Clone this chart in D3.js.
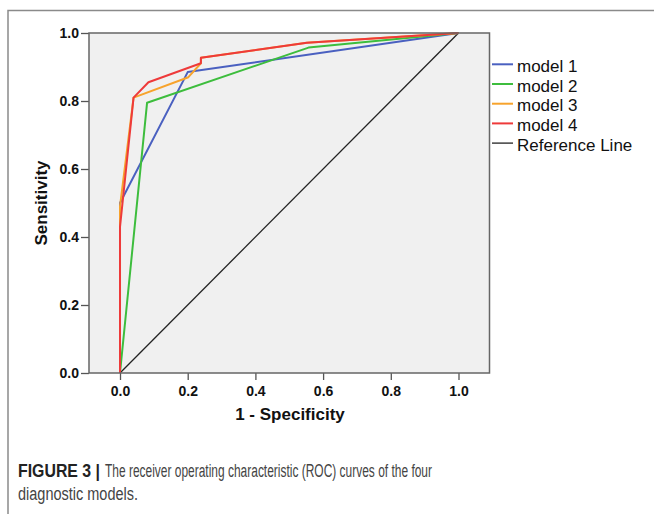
<!DOCTYPE html>
<html>
<head>
<meta charset="utf-8">
<script src="https://cdn.jsdelivr.net/npm/d3@7"></script>
<style>
  body { margin: 0; background: #fff; }
  svg { display: block; }
</style>
</head>
<body>
<div id="chart"></div>
<script>
// ROC curve points (x = 1 - specificity, y = sensitivity)
var model1X = [0, 0, 0.2, 1];
var model1Y = [0, 0.5, 0.885, 1];
var model2X = [0, 0.08, 0.557, 1];
var model2Y = [0, 0.795, 0.957, 1];
var model3X = [0, 0, 0.04, 0.202, 0.239, 0.239, 0.552, 1];
var model3Y = [0, 0.49, 0.81, 0.87, 0.911, 0.927, 0.971, 1];
var model4X = [0, 0, 0.04, 0.084, 0.239, 0.239, 0.552, 1];
var model4Y = [0, 0.43, 0.81, 0.855, 0.911, 0.927, 0.971, 1];
var refX = [0, 1];
var refY = [0, 1];

var seriesNames = ["model 1", "model 2", "model 3", "model 4", "Reference Line"];
var tickValues = [0, 0.2, 0.4, 0.6, 0.8, 1.0];

var colors = ["#4a60c0", "#3dbd3d", "#f7a32c", "#ee3a3a", "#222222"];

var svgWidth = 654;
var svgHeight = 514;

var svg = d3.select("#chart")
    .append("svg")
    .attr("width", svgWidth)
    .attr("height", svgHeight);

// figure border (top + left)
svg.append("path")
    .attr("d", "M8,514 L8,10.5 L654,10.5")
    .attr("fill", "none")
    .attr("stroke", "#8a8a8a")
    .attr("stroke-width", 1.5);

var xScale = d3.scaleLinear()
    .domain([-0.0916, 1.0916])
    .range([89, 489.5]);

var yScale = d3.scaleLinear()
    .domain([0, 1])
    .range([373, 33]);

// plot background
svg.append("rect")
    .attr("x", xScale.range()[0])
    .attr("y", yScale.range()[1])
    .attr("width", xScale.range()[1] - xScale.range()[0])
    .attr("height", yScale.range()[0] - yScale.range()[1])
    .attr("fill", "#f0f0f0");

// axes
var bottomAxis = d3.axisBottom(xScale)
    .tickValues(tickValues)
    .tickSize(7)
    .tickPadding(6)
    .tickFormat(d3.format(".1f"));

var leftAxis = d3.axisLeft(yScale)
    .tickValues(tickValues)
    .tickSize(8)
    .tickPadding(2)
    .tickFormat(d3.format(".1f"));

var xAxis = svg.append("g")
    .attr("transform", "translate(0," + yScale(0) + ")")
    .call(bottomAxis);

var yAxis = svg.append("g")
    .attr("transform", "translate(" + xScale.range()[0] + ",0)")
    .call(leftAxis);

[xAxis, yAxis].forEach(function (ax) {
    ax.select(".domain").remove();
    ax.selectAll("line").attr("stroke", "#555").attr("stroke-width", 1.3);
    ax.selectAll("text")
        .attr("fill", "#111")
        .style("font-family", "'Liberation Sans', Arial, sans-serif")
        .style("font-size", "14px")
        .style("font-weight", "bold");
});

// lines
var line = d3.line()
    .x(d => xScale(d[0]))
    .y(d => yScale(d[1]));

function pts(xs, ys) {
    return xs.map((x, i) => [x, ys[i]]);
}

svg.append("path")
    .datum(pts(refX, refY))
    .attr("d", line)
    .attr("fill", "none")
    .attr("stroke", colors[4])
    .attr("stroke-width", 1.3);

var curves = [
    pts(model1X, model1Y),
    pts(model2X, model2Y),
    pts(model3X, model3Y),
    pts(model4X, model4Y)
];

svg.selectAll(".roc")
    .data(curves)
    .enter()
    .append("path")
    .attr("class", "roc")
    .attr("d", line)
    .attr("fill", "none")
    .attr("stroke", (d, i) => colors[i])
    .attr("stroke-width", 2)
    .attr("stroke-linejoin", "round");

// plot frame
svg.append("rect")
    .attr("x", xScale.range()[0])
    .attr("y", yScale.range()[1])
    .attr("width", xScale.range()[1] - xScale.range()[0])
    .attr("height", yScale.range()[0] - yScale.range()[1])
    .attr("fill", "none")
    .attr("stroke", "#666")
    .attr("stroke-width", 1.5);

// axis titles
svg.append("text")
    .attr("x", 290)
    .attr("y", 420)
    .attr("text-anchor", "middle")
    .style("font-family", "'Liberation Sans', Arial, sans-serif")
    .style("font-size", "17px")
    .style("font-weight", "bold")
    .attr("fill", "#111")
    .text("1 - Specificity");

svg.append("text")
    .attr("transform", "translate(47,203) rotate(-90)")
    .attr("text-anchor", "middle")
    .style("font-family", "'Liberation Sans', Arial, sans-serif")
    .style("font-size", "17px")
    .style("font-weight", "bold")
    .attr("fill", "#111")
    .text("Sensitivity");

// legend
var legend = svg.selectAll(".legend")
    .data(seriesNames)
    .enter()
    .append("g")
    .attr("class", "legend")
    .attr("transform", (d, i) => "translate(492," + (64.3 + i * 19.7) + ")");

legend.append("line")
    .attr("x1", 0)
    .attr("x2", 21)
    .attr("stroke", (d, i) => colors[i])
    .attr("stroke-width", (d, i) => i < 4 ? 2 : 1.3);

legend.append("text")
    .attr("x", 25)
    .attr("y", 7.5)
    .style("font-family", "'Liberation Sans', Arial, sans-serif")
    .style("font-size", "17px")
    .attr("fill", "#111")
    .text(d => d);

// caption
var capFont = "'Liberation Sans Narrow', 'Liberation Sans', Arial, sans-serif";

svg.append("text")
    .attr("x", 18)
    .attr("y", 477)
    .attr("textLength", 82)
    .attr("lengthAdjust", "spacingAndGlyphs")
    .style("font-family", capFont)
    .style("font-size", "18px")
    .style("font-weight", "bold")
    .attr("fill", "#222")
    .text("FIGURE 3 |");

svg.append("text")
    .attr("x", 105)
    .attr("y", 477)
    .attr("textLength", 327)
    .attr("lengthAdjust", "spacingAndGlyphs")
    .style("font-family", capFont)
    .style("font-size", "18px")
    .attr("fill", "#444")
    .text("The receiver operating characteristic (ROC) curves of the four");

svg.append("text")
    .attr("x", 18)
    .attr("y", 500)
    .attr("textLength", 120)
    .attr("lengthAdjust", "spacingAndGlyphs")
    .style("font-family", capFont)
    .style("font-size", "18px")
    .attr("fill", "#444")
    .text("diagnostic models.");
</script>
</body>
</html>
